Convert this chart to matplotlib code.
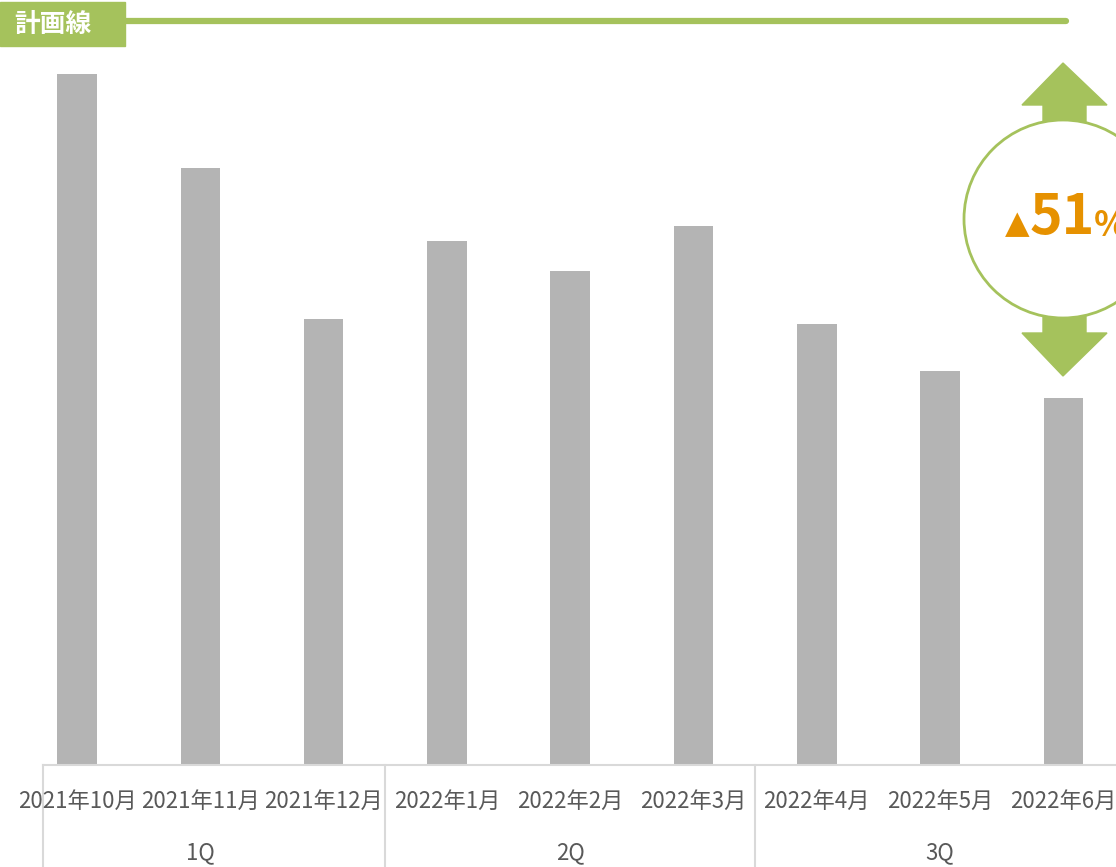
import matplotlib
matplotlib.use("Agg")
import matplotlib.pyplot as plt
from matplotlib.patches import Circle, Polygon, Rectangle
from matplotlib.lines import Line2D

plt.rcParams['font.family'] = ['Noto Sans CJK JP', 'DejaVu Sans']

months = ["2021年10月", "2021年11月", "2021年12月",
          "2022年1月", "2022年2月", "2022年3月",
          "2022年4月", "2022年5月", "2022年6月"]
quarters = ["1Q", "2Q", "3Q"]
values = [691, 597, 446, 524, 494, 539, 441, 394, 367]
plan_value = 744
gap_label = "51"

W, H = 1116, 867
GREEN = "#A5C25C"
GRAY = "#B4B4B4"
ORANGE = "#E69100"
TEXT = "#595959"

fig = plt.figure(figsize=(W / 100, H / 100), dpi=100)

# bar area: baseline at 765px, each category 123.3px wide, first bar centred at 77px
step = 123.3
first, base = 77, 765
cat_left = first - step / 2
ax = fig.add_axes([cat_left / W, (H - base) / H, 9 * step / W, base / H])
ax.bar(range(len(values)), values, width=0.32, color=GRAY)
ax.set_xlim(-0.5, len(values) - 0.5)
ax.set_ylim(0, base)
ax.axis("off")

# overlay in pixel coordinates for the frame, labels and the callout
ov = fig.add_axes([0, 0, 1, 1], zorder=5)
ov.set_xlim(0, W)
ov.set_ylim(H, 0)
ov.axis("off")
ov.patch.set_alpha(0)

frame_left = 43
line_c = "#D9D9D9"
ov.add_line(Line2D([frame_left, cat_left + 9 * step], [base, base], color=line_c, lw=1.5))
for x in [frame_left] + [cat_left + k * 3 * step for k in (1, 2, 3)]:
    ov.add_line(Line2D([x, x], [base, H], color=line_c, lw=1.5))

for i, m in enumerate(months):
    ov.text(first + i * step, 801, m, ha="center", va="center",
            fontsize=16, color=TEXT)
for i, q in enumerate(quarters):
    ov.text(first + (i * 3 + 1) * step, 853, q, ha="center", va="center",
            fontsize=16, color=TEXT)

# plan line with its label box
plan_y = base - plan_value
ov.add_line(Line2D([125, 1066], [plan_y, plan_y], color=GREEN, lw=4.5,
                   solid_capstyle="round"))
ov.add_patch(Rectangle((0, 2), 125, 44, color=GREEN))
ov.text(14, 24, "計画線", ha="left", va="center", fontsize=18.5,
        fontweight="bold", color="white")

# gap callout: circle with arrows above and below
cx, cy, r = 1063, 219, 99
ov.add_patch(Polygon([(1043, 125), (1043, 105), (1022, 105), (cx, 63),
                      (1107, 105), (1086, 105), (1086, 125)], color=GREEN))
ov.add_patch(Polygon([(1043, 312), (1043, 333), (1022, 333), (cx, 376),
                      (1107, 333), (1086, 333), (1086, 312)], color=GREEN))
ov.add_patch(Circle((cx, cy), r, facecolor="white", edgecolor=GREEN, lw=2))
ov.text(1017, 225, "▲", ha="center", va="center", fontsize=23, color=ORANGE,
        family=['DejaVu Sans'])
ov.text(1062, 218, gap_label, ha="center", va="center", fontsize=40,
        fontweight="bold", color=ORANGE)
ov.text(1094, 225, "%", ha="left", va="center", fontsize=25,
        fontweight="bold", color=ORANGE)

fig.savefig("out.png", dpi=100)
